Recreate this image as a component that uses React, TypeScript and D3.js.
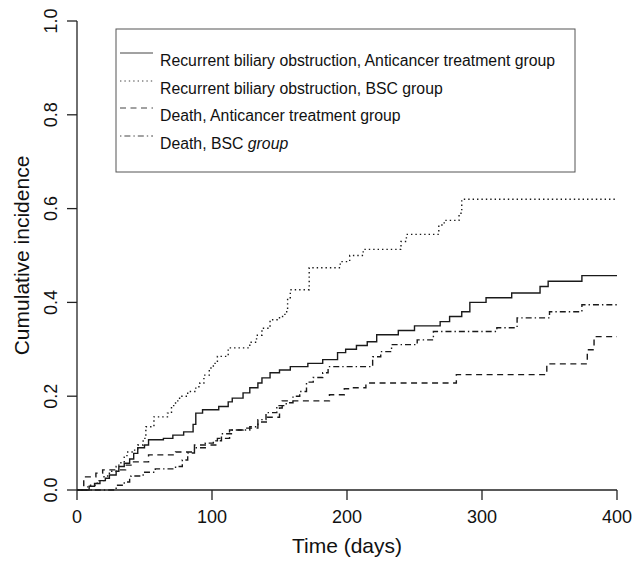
import React from "react";
import * as d3 from "d3";

const W = 634;
const H = 562;

// Recurrent biliary obstruction, Anticancer treatment group (solid)
const rboAntiT = [0, 9, 13, 17, 21, 24, 29, 31, 35, 39, 42, 45, 50, 53, 64, 71, 79, 86, 88, 93, 105, 112, 115, 123, 128, 134, 137, 143, 150, 158, 171, 182, 193, 199, 207, 215, 222, 238, 250, 269, 276, 285, 291, 303, 322, 343, 349, 374];
const rboAntiV = [0, 0.008, 0.014, 0.02, 0.025, 0.032, 0.04, 0.05, 0.057, 0.066, 0.078, 0.09, 0.096, 0.107, 0.11, 0.117, 0.124, 0.14, 0.164, 0.171, 0.178, 0.188, 0.196, 0.207, 0.218, 0.228, 0.239, 0.25, 0.256, 0.263, 0.27, 0.278, 0.293, 0.3, 0.308, 0.316, 0.331, 0.34, 0.35, 0.359, 0.37, 0.38, 0.4, 0.41, 0.42, 0.434, 0.445, 0.457];

// Recurrent biliary obstruction, BSC group (dotted)
const rboBscT = [0, 8, 15, 20, 24, 29, 31, 35, 37, 42, 45, 49, 51, 57, 67, 70, 73, 76, 82, 88, 91, 94, 98, 101, 104, 112, 128, 133, 137, 143, 150, 154, 156, 158, 172, 195, 202, 212, 240, 244, 268, 272, 283, 285];
const rboBscV = [0, 0.01, 0.02, 0.03, 0.04, 0.05, 0.058, 0.07, 0.081, 0.085, 0.096, 0.11, 0.135, 0.156, 0.164, 0.18, 0.19, 0.2, 0.21, 0.22, 0.228, 0.245, 0.26, 0.27, 0.285, 0.303, 0.315, 0.33, 0.345, 0.363, 0.37, 0.38, 0.41, 0.427, 0.474, 0.487, 0.5, 0.513, 0.53, 0.545, 0.565, 0.575, 0.59, 0.62];

// Death, Anticancer treatment group (dashed)
const deathAntiT = [0, 5, 14, 19, 36, 40, 53, 73, 87, 104, 113, 123, 134, 141, 150, 152, 187, 198, 203, 214, 281, 348, 378, 383];
const deathAntiV = [0, 0.028, 0.036, 0.043, 0.053, 0.06, 0.075, 0.081, 0.096, 0.11, 0.128, 0.132, 0.145, 0.155, 0.175, 0.19, 0.203, 0.216, 0.218, 0.228, 0.246, 0.269, 0.299, 0.327];

// Death, BSC group (dot-dash)
const deathBscT = [0, 29, 35, 39, 40, 49, 58, 73, 78, 82, 87, 95, 101, 107, 115, 128, 134, 140, 148, 155, 160, 165, 170, 175, 182, 186, 219, 225, 233, 252, 264, 311, 326, 350, 374];
const deathBscV = [0, 0.01, 0.017, 0.026, 0.03, 0.038, 0.045, 0.05, 0.064, 0.079, 0.09, 0.1, 0.105, 0.12, 0.128, 0.135, 0.15, 0.165, 0.18, 0.186, 0.2, 0.21, 0.23, 0.24, 0.25, 0.263, 0.284, 0.295, 0.31, 0.32, 0.338, 0.346, 0.367, 0.38, 0.395];

const xTicks = [0, 100, 200, 300, 400];
const yTicks = [0, 0.2, 0.4, 0.6, 0.8, 1.0];

const legendLabels = [
  "Recurrent biliary obstruction, Anticancer treatment group",
  "Recurrent biliary obstruction, BSC group",
  "Death, Anticancer treatment group",
  "Death, BSC group",
];

const T_END = 400;

export default function App() {
  const x = d3.scaleLinear().domain([0, 400]).range([77, 617]);
  const y = d3.scaleLinear().domain([0, 1]).range([490, 21]);
  const line = d3
    .line<[number, number]>()
    .x((d) => x(d[0]))
    .y((d) => y(d[1]))
    .curve(d3.curveStepAfter);

  const mk = (ts: number[], vs: number[]) => {
    const pts: [number, number][] = ts.map((t, i) => [t, vs[i]]);
    pts.push([T_END, vs[vs.length - 1]]);
    return line(pts) || "";
  };

  const series = [
    { d: mk(rboAntiT, rboAntiV), dash: "none" },
    { d: mk(rboBscT, rboBscV), dash: "1.4,3" },
    { d: mk(deathAntiT, deathAntiV), dash: "6,4.5" },
    { d: mk(deathBscT, deathBscV), dash: "1.4,3,6,3" },
  ];

  const font = "'Liberation Sans', Arial, Helvetica, sans-serif";
  const rowY = [60, 88, 115, 143];

  return (
    <svg
      width={W}
      height={H}
      style={{ position: "absolute", left: 0, top: 0, background: "#fff" }}
      fontFamily={font}
    >
      <rect x={0} y={0} width={W} height={H} fill="#fff" />
      {/* axes */}
      <line x1={x(0)} x2={x(400)} y1={490} y2={490} stroke="#222" strokeWidth={1.3} />
      <line x1={77} x2={77} y1={y(0)} y2={y(1)} stroke="#222" strokeWidth={1.3} />
      {xTicks.map((t) => (
        <g key={"xt" + t}>
          <line x1={x(t)} x2={x(t)} y1={490} y2={500} stroke="#222" strokeWidth={1.3} />
          <text x={x(t)} y={523} textAnchor="middle" fontSize={18} fill="#111">
            {t}
          </text>
        </g>
      ))}
      {yTicks.map((v) => (
        <g key={"yt" + v}>
          <line x1={67} x2={77} y1={y(v)} y2={y(v)} stroke="#222" strokeWidth={1.3} />
          <text
            transform={`translate(57,${y(v)}) rotate(-90)`}
            textAnchor="middle"
            fontSize={18}
            fill="#111"
          >
            {v.toFixed(1)}
          </text>
        </g>
      ))}
      <text x={347} y={553} textAnchor="middle" fontSize={21} fill="#111">
        Time (days)
      </text>
      <text
        transform={`translate(29,${y(0.5)}) rotate(-90)`}
        textAnchor="middle"
        fontSize={21}
        fill="#111"
      >
        Cumulative incidence
      </text>

      {/* curves */}
      {series.map((s, i) => (
        <path
          key={"s" + i}
          d={s.d}
          fill="none"
          stroke="#1a1a1a"
          strokeWidth={1.4}
          strokeDasharray={s.dash}
        />
      ))}

      {/* legend */}
      <rect x={116} y={29} width={459} height={143} fill="#fff" stroke="#555" strokeWidth={1} />
      {legendLabels.map((lab, i) => (
        <g key={"lg" + i}>
          <line
            x1={120}
            x2={153}
            y1={rowY[i] - 7}
            y2={rowY[i] - 7}
            stroke="#444"
            strokeWidth={1}
            strokeDasharray={series[i].dash}
          />
          <text x={160} y={rowY[i] + 5.5} fontSize={15.8} fill="#111">
            {i === 3 ? (
              <>
                Death, BSC <tspan fontStyle="italic">group</tspan>
              </>
            ) : (
              lab
            )}
          </text>
        </g>
      ))}
    </svg>
  );
}
